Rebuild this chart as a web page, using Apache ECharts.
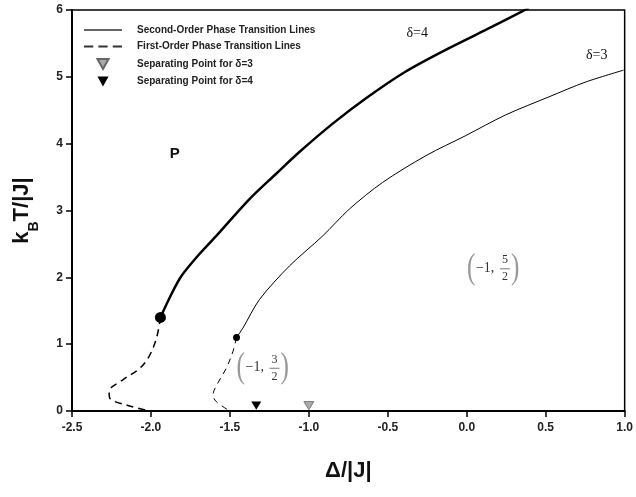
<!DOCTYPE html>
<html>
<head>
<meta charset="utf-8">
<script src="https://cdn.jsdelivr.net/npm/echarts@6/dist/echarts.min.js"></script>
<style>html,body{margin:0;padding:0;background:#fff;}#c{width:636px;height:497px;}</style>
</head>
<body>
<div id="c"></div>
<script>
// Second-order lines
const d4SecondX = [-1.94, -1.87, -1.807, -1.70, -1.586, -1.376, -1.207, -1.06, -0.849, -0.638, -0.386, -0.112, 0.161, 0.393];
const d4SecondY = [1.40, 1.75, 2.02, 2.33, 2.62, 3.17, 3.55, 3.875, 4.30, 4.68, 5.08, 5.43, 5.75, 6.03];
const d3SecondX = [-1.458, -1.418, -1.312, -1.123, -0.912, -0.744, -0.533, -0.259, -0.007, 0.246, 0.52, 0.75, 0.993];
const d3SecondY = [1.10, 1.24, 1.67, 2.17, 2.62, 3.02, 3.42, 3.82, 4.12, 4.43, 4.70, 4.92, 5.10];
// First-order lines
const d4FirstX = [-1.94, -1.965, -2.018, -2.08, -2.176, -2.265, -2.26, -2.155, -2.007];
const d4FirstY = [1.40, 1.09, 0.79, 0.62, 0.47, 0.29, 0.19, 0.09, 0.0];
const d3FirstX = [-1.458, -1.481, -1.523, -1.576, -1.607, -1.586, -1.50];
const d3FirstY = [1.10, 0.89, 0.64, 0.42, 0.24, 0.14, 0.0];
// Separating points
const sep3 = [-1.0, 0.08];
const sep4 = [-1.333, 0.08];
// Tricritical dots
const dot4 = [-1.94, 1.40];
const dot3 = [-1.458, 1.10];
// Axis
const xMin = -2.5, xMax = 1.0, xStep = 0.5;
const yMin = 0, yMax = 6, yStep = 1;
// Text annotations [x, y, text]
const textNotes = [[-1.849, 3.85, 'P'], [-0.314, 5.65, 'δ=4'], [0.823, 5.32, 'δ=3']];
const fracNotes = [[0.153, 2.135, '5', '2'], [-1.306, 0.647, '3', '2']];

const zip = (xs, ys) => xs.map((x, i) => [x, ys[i]]);
const SECOND = 'Second-Order Phase Transition Lines';
const FIRST = 'First-Order Phase Transition Lines';
const S3 = 'Separating Point for δ=3';
const S4 = 'Separating Point for δ=4';
const downTri = 'path://M0,0 L10,0 L5,9 Z';
const solidIcon = 'path://M0,0 h37 v1.5 h-37 Z';
const dashIcon = 'path://M0,0 h9 v2 h-9 Z M14,0 h9 v2 h-9 Z M28,0 h9 v2 h-9 Z';
const font = 'Liberation Sans';

const chart = echarts.init(document.getElementById('c'), null, {renderer: 'canvas'});
chart.setOption({
  animation: false,
  backgroundColor: '#fff',
  grid: {left: 72, right: 11, top: 10, bottom: 86, show: true, borderColor: '#000', borderWidth: 1.5},
  legend: {
    orient: 'vertical', left: 79, top: 20, itemWidth: 38, itemHeight: 10, itemGap: 6.5,
    symbolKeepAspect: true,
    data: [SECOND, FIRST, S3, S4],
    textStyle: {fontFamily: font, fontWeight: 'bold', fontSize: 10, color: '#222', padding: [0, 0, 0, 10]},
    selectedMode: false
  },
  xAxis: {
    type: 'value', min: xMin, max: xMax, interval: xStep,
    name: 'Δ/|J|', nameLocation: 'middle', nameGap: 49,
    nameTextStyle: {fontFamily: font, fontWeight: 'bold', fontSize: 22, color: '#111'},
    axisLine: {show: true, onZero: false, lineStyle: {color: '#000', width: 2}},
    axisTick: {show: true, inside: false, length: 6, lineStyle: {color: '#000', width: 1.5}},
    axisLabel: {fontFamily: font, fontWeight: 'bold', fontSize: 12, color: '#222', margin: 11, formatter: v => v.toFixed(1)},
    splitLine: {show: false}
  },
  yAxis: {
    type: 'value', min: yMin, max: yMax, interval: yStep,
    name: '{a|k}{s|B}{a|T/|J|}', nameLocation: 'middle', nameGap: 35, nameRotate: 90,
    nameTextStyle: {
      rich: {
        a: {fontFamily: font, fontWeight: 'bold', fontSize: 22, color: '#111', lineHeight: 26, verticalAlign: 'top'},
        s: {fontFamily: font, fontWeight: 'bold', fontSize: 14, color: '#111', lineHeight: 14, padding: [16, 0, 0, 0], verticalAlign: 'top'}
      }
    },
    axisLine: {show: true, onZero: false, lineStyle: {color: '#000', width: 2}},
    axisTick: {show: true, inside: false, length: 6, lineStyle: {color: '#000', width: 1.5}},
    axisLabel: {fontFamily: font, fontWeight: 'bold', fontSize: 12, color: '#222', margin: 9},
    splitLine: {show: false}
  },
  series: [
    // legend key carriers (no data)
    {name: SECOND, type: 'scatter', data: [], symbol: solidIcon, itemStyle: {color: '#000'}},
    {name: FIRST, type: 'scatter', data: [], symbol: dashIcon, itemStyle: {color: '#000'}},
    {name: SECOND, type: 'line', data: zip(d3SecondX, d3SecondY), symbol: 'none', smooth: 0.3,
     lineStyle: {color: '#000', width: 1}, itemStyle: {color: '#000'}, z: 3},
    {name: SECOND, type: 'line', data: zip(d4SecondX, d4SecondY), symbol: 'none', smooth: 0.3,
     lineStyle: {color: '#000', width: 2.5}, itemStyle: {color: '#000'}, z: 3},
    {name: FIRST, type: 'line', data: zip(d4FirstX, d4FirstY), symbol: 'none', smooth: 0.35,
     lineStyle: {color: '#000', width: 1.5, type: [7, 5]}, itemStyle: {color: '#000'}, z: 3},
    {name: FIRST, type: 'line', data: zip(d3FirstX, d3FirstY), symbol: 'none', smooth: 0.35,
     lineStyle: {color: '#000', width: 1, type: [6, 5]}, itemStyle: {color: '#000'}, z: 3},
    {name: 'dots', type: 'scatter', data: [dot4], symbolSize: 11, itemStyle: {color: '#000', opacity: 1}, z: 5},
    {name: 'dots3', type: 'scatter', data: [dot3], symbolSize: 7, itemStyle: {color: '#000', opacity: 1}, z: 5},
    {name: S3, type: 'scatter', data: [sep3], symbol: downTri, symbolSize: [10, 9], symbolKeepAspect: true,
     itemStyle: {color: '#aaa', borderColor: '#666', borderWidth: 0.8, opacity: 1}, z: 5},
    {name: S4, type: 'scatter', data: [sep4], symbol: downTri, symbolSize: [10, 9], symbolKeepAspect: true,
     itemStyle: {color: '#000', opacity: 1}, z: 5}
  ]
});

const graphics = [];
textNotes.forEach(n => {
  const p = chart.convertToPixel({gridIndex: 0}, [n[0], n[1]]);
  const isP = n[2] === 'P';
  graphics.push({type: 'text', x: p[0], y: p[1], silent: true, style: {
    text: n[2], align: 'center', verticalAlign: 'middle',
    font: isP ? 'bold 15px "Liberation Sans"' : '14px "Liberation Serif"', fill: '#111'}});
});
fracNotes.forEach(n => {
  const p = chart.convertToPixel({gridIndex: 0}, [n[0], n[1]]);
  graphics.push({type: 'group', x: p[0], y: p[1], silent: true, children: [
    {type: 'text', x: -24, y: 0, style: {text: '(', align: 'left', verticalAlign: 'middle', font: '36px "Liberation Serif"', fill: '#999'}, scaleX: 0.7},
    {type: 'text', x: -15, y: 0, style: {text: '−1,', align: 'left', verticalAlign: 'middle', font: '14px "Liberation Serif"', fill: '#333'}},
    {type: 'text', x: 14, y: -8, style: {text: n[2], align: 'center', verticalAlign: 'middle', font: '12px "Liberation Serif"', fill: '#333'}},
    {type: 'line', shape: {x1: 9, y1: 0.5, x2: 19, y2: 0.5}, style: {stroke: '#555', lineWidth: 0.8}},
    {type: 'text', x: 14, y: 9, style: {text: n[3], align: 'center', verticalAlign: 'middle', font: '12px "Liberation Serif"', fill: '#333'}},
    {type: 'text', x: 20, y: 0, style: {text: ')', align: 'left', verticalAlign: 'middle', font: '36px "Liberation Serif"', fill: '#999'}, scaleX: 0.7}
  ]});
});
chart.setOption({graphic: graphics});
</script>
</body>
</html>
